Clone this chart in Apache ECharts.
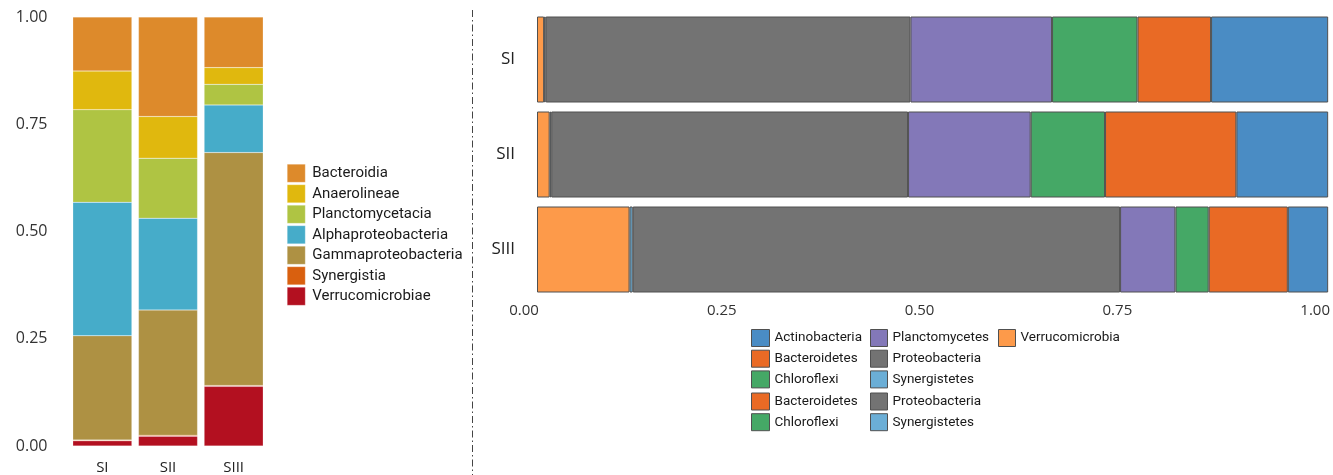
<!DOCTYPE html>
<html>
<head>
<meta charset="utf-8">
<script src="https://cdn.jsdelivr.net/npm/echarts@6/dist/echarts.min.js"></script>
<style>html,body{margin:0;padding:0;background:#fff}#c{width:1333px;height:475px}</style>
</head>
<body>
<div id="c"></div>
<script>
// ---- Left chart (class level) ----
const leftCategories = ['SI', 'SII', 'SIII'];
const leftTicks = [0, 0.25, 0.5, 0.75, 1];
const verrucomicrobiae = [0.012, 0.023, 0.139];
const synergistia = [0.002, 0.002, 0.002];
const gammaproteobacteria = [0.243, 0.292, 0.543];
const alphaproteobacteria = [0.311, 0.214, 0.111];
const planctomycetacia = [0.216, 0.140, 0.048];
const anaerolineae = [0.090, 0.097, 0.039];
const bacteroidia = [0.126, 0.232, 0.118];

// ---- Right chart (phylum level) ----
const rightCategories = ['SI', 'SII', 'SIII'];
const rightTicks = [0, 0.25, 0.5, 0.75, 1];
const verrucomicrobia = [0.009, 0.016, 0.117];
const synergistetes = [0.002, 0.002, 0.004];
const proteobacteria = [0.461, 0.451, 0.616];
const planctomycetes = [0.179, 0.155, 0.070];
const chloroflexi = [0.108, 0.094, 0.042];
const bacteroidetes = [0.093, 0.166, 0.100];
const actinobacteria = [0.148, 0.116, 0.051];

const leftSeriesDefs = [
  ['Verrucomicrobiae', verrucomicrobiae, '#B31020'],
  ['Synergistia', synergistia, '#D9600F'],
  ['Gammaproteobacteria', gammaproteobacteria, '#AE9143'],
  ['Alphaproteobacteria', alphaproteobacteria, '#46ACC9'],
  ['Planctomycetacia', planctomycetacia, '#AFC443'],
  ['Anaerolineae', anaerolineae, '#E0B80E'],
  ['Bacteroidia', bacteroidia, '#DD8A2B']
];
const rightSeriesDefs = [
  ['Verrucomicrobia', verrucomicrobia, '#FD9A4A'],
  ['Synergistetes', synergistetes, '#6BAED6'],
  ['Proteobacteria', proteobacteria, '#737373'],
  ['Planctomycetes', planctomycetes, '#8378B8'],
  ['Chloroflexi', chloroflexi, '#45A866'],
  ['Bacteroidetes', bacteroidetes, '#E96A25'],
  ['Actinobacteria', actinobacteria, '#4A8CC4']
];

const series = [];
leftSeriesDefs.forEach(([name, data, color]) => {
  series.push({
    name, type: 'bar', stack: 'left', xAxisIndex: 0, yAxisIndex: 0,
    data, barCategoryGap: '10%',
    itemStyle: { color, borderColor: 'rgba(255,255,255,0.35)', borderWidth: 0.5 },
    emphasis: { disabled: true }
  });
});
rightSeriesDefs.forEach(([name, data, color]) => {
  series.push({
    name, type: 'bar', stack: 'right', xAxisIndex: 1, yAxisIndex: 1,
    data, barWidth: 86,
    itemStyle: { color, borderColor: '#505050', borderWidth: 1 },
    emphasis: { disabled: true }
  });
});

const legendCommon = {
  orient: 'vertical', padding: 0, selectedMode: false,
  icon: 'rect'
};

const option = {
  animation: false,
  backgroundColor: '#fff',
  grid: [
    { left: 69.5, width: 197, top: 17, height: 431, containLabel: false },
    { left: 537, width: 793, top: 12, height: 285, containLabel: false }
  ],
  xAxis: [
    {
      type: 'category', gridIndex: 0, data: leftCategories,
      axisLine: { show: false }, axisTick: { show: false },
      axisLabel: { margin: 14, fontFamily: 'Open Sans', fontSize: 15, color: '#222' }
    },
    {
      type: 'value', gridIndex: 1, min: 0, max: 1, interval: 0.25,
      axisLine: { show: false }, axisTick: { show: false }, splitLine: { show: false },
      axisLabel: {
        margin: 6, fontFamily: 'Open Sans', fontSize: 15, color: '#333',
        padding: [0, 26, 0, 0],
        formatter: v => rightTicks.includes(v) ? v.toFixed(2) : ''
      }
    }
  ],
  yAxis: [
    {
      type: 'value', gridIndex: 0, min: 0, max: 1, interval: 0.25,
      axisLine: { show: false }, axisTick: { show: false }, splitLine: { show: false },
      axisLabel: {
        margin: 22, fontFamily: 'Open Sans', fontSize: 16, color: '#333',
        formatter: v => leftTicks.includes(v) ? v.toFixed(2) : ''
      }
    },
    {
      type: 'category', gridIndex: 1, data: rightCategories, inverse: true,
      axisLine: { show: false }, axisTick: { show: false },
      axisLabel: { margin: 22, fontFamily: 'Open Sans', fontSize: 17, color: '#222' }
    }
  ],
  legend: [
    Object.assign({}, legendCommon, {
      left: 287, top: 164, itemWidth: 18, itemHeight: 18, itemGap: 2,
      data: ['Bacteroidia', 'Anaerolineae', 'Planctomycetacia', 'Alphaproteobacteria',
             'Gammaproteobacteria', 'Synergistia', 'Verrucomicrobiae'],
      itemStyle: { borderColor: 'rgba(255,255,255,0.5)', borderWidth: 0.5 },
      textStyle: { fontFamily: 'Roboto', fontSize: 15, color: '#1a1a1a', padding: [0, 0, 0, 2] }
    }),
    Object.assign({}, legendCommon, {
      left: 751, top: 329, itemWidth: 18, itemHeight: 17, itemGap: 2.7,
      data: ['Actinobacteria', 'Bacteroidetes', 'Chloroflexi'],
      itemStyle: { borderColor: '#505050', borderWidth: 1 },
      textStyle: { fontFamily: 'Roboto', fontSize: 13.5, color: '#1a1a1a' }
    }),
    Object.assign({}, legendCommon, {
      left: 870, top: 329, itemWidth: 17, itemHeight: 17, itemGap: 2.7,
      data: ['Planctomycetes', 'Proteobacteria', 'Synergistetes'],
      itemStyle: { borderColor: '#505050', borderWidth: 1 },
      textStyle: { fontFamily: 'Roboto', fontSize: 13.5, color: '#1a1a1a' }
    }),
    Object.assign({}, legendCommon, {
      left: 998, top: 329, itemWidth: 17, itemHeight: 17, itemGap: 2.7,
      data: ['Verrucomicrobia'],
      itemStyle: { borderColor: '#505050', borderWidth: 1 },
      textStyle: { fontFamily: 'Roboto', fontSize: 13.5, color: '#1a1a1a' }
    }),
    Object.assign({}, legendCommon, {
      left: 751, top: 392.5, itemWidth: 18, itemHeight: 17, itemGap: 2.7,
      data: ['Bacteroidetes', 'Chloroflexi'],
      itemStyle: { borderColor: '#505050', borderWidth: 1 },
      textStyle: { fontFamily: 'Roboto', fontSize: 13.5, color: '#1a1a1a' }
    }),
    Object.assign({}, legendCommon, {
      left: 870, top: 392.5, itemWidth: 17, itemHeight: 17, itemGap: 2.7,
      data: ['Proteobacteria', 'Synergistetes'],
      itemStyle: { borderColor: '#505050', borderWidth: 1 },
      textStyle: { fontFamily: 'Roboto', fontSize: 13.5, color: '#1a1a1a' }
    })
  ],
  graphic: [
    {
      type: 'line', silent: true,
      shape: { x1: 472.5, y1: 10, x2: 472.5, y2: 475 },
      style: { stroke: '#444', lineWidth: 1, lineDash: [7, 3, 1.5, 3] }
    }
  ],
  series
};

const chart = echarts.init(document.getElementById('c'), null, { renderer: 'canvas' });
chart.setOption(option);
</script>
</body>
</html>
